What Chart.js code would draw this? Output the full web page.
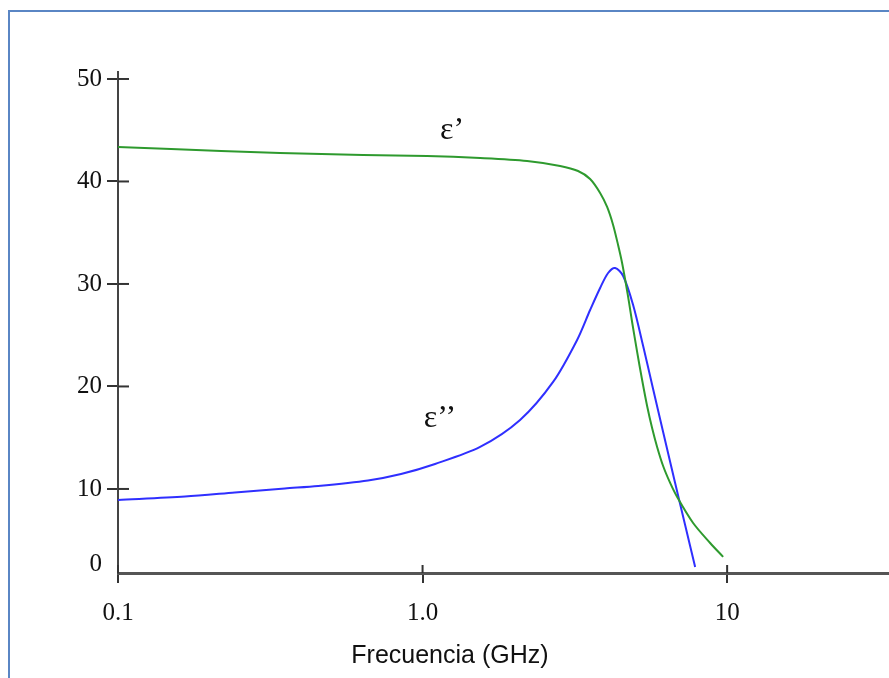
<!DOCTYPE html>
<html><head><meta charset="utf-8">
<script src="https://cdn.jsdelivr.net/npm/chart.js@4"></script>
<style>
html,body{margin:0;padding:0;background:#fff;overflow:hidden}
#wrap{position:relative;width:889px;height:678px}
#frame{position:absolute;left:8px;top:10px;width:900px;height:700px;border-left:2px solid #5a86c4;border-top:2px solid #5a86c4;box-sizing:border-box;pointer-events:none}
canvas{position:absolute;left:0;top:0}
</style></head><body>
<div id="wrap"><canvas id="c" width="889" height="678"></canvas><div id="frame"></div></div>
<script>
// ε' (real part) vs frequency (GHz)
const freqReal = [0.1, 0.1493, 0.218, 0.3404, 0.6376, 1.0346, 1.545, 2.204, 2.829, 3.240, 3.549, 3.828, 4.036, 4.223, 4.385, 4.520, 4.659, 4.766, 4.875, 5.064, 5.259, 5.461, 5.671, 5.890, 6.164, 6.500, 6.853, 7.733, 8.795, 9.703];
const epsReal  = [43.37, 43.17, 42.98, 42.78, 42.59, 42.49, 42.29, 42.0, 41.51, 41.02, 40.24, 38.88, 37.51, 35.76, 33.80, 32.05, 29.90, 28.15, 26.29, 23.37, 20.63, 18.10, 15.95, 14.10, 12.24, 10.59, 9.22, 6.68, 4.73, 3.37];
// ε'' (imaginary part) vs frequency (GHz)
const freqImag = [0.1, 0.166, 0.242, 0.353, 0.454, 0.662, 0.850, 1.099, 1.545, 2.090, 2.683, 3.217, 3.549, 3.828, 4.066, 4.288, 4.556, 4.913, 5.300, 5.714, 6.164, 6.749, 7.279, 7.852];
const epsImag  = [8.93, 9.27, 9.66, 10.05, 10.29, 10.83, 11.46, 12.44, 14.10, 16.73, 20.44, 24.54, 27.46, 29.61, 31.07, 31.56, 30.78, 27.95, 23.95, 19.76, 15.56, 10.59, 6.49, 2.39];

const xTickValues = [0.1, 1, 10];
const xTickLabels = ['0.1', '1.0', '10'];
const yTickValues = [2.6, 10, 20, 30, 40, 50];
const yTickLabels = ['0', '10', '20', '30', '40', '50'];
const curveLabels = ['ε’', 'ε’’'];
const curveLabelX = [1.25, 1.14];
const curveLabelY = [45.0, 16.9];
const axisTitle = 'Frecuencia (GHz)';
const axisTitleX = 1.23;

const serif = "'Liberation Serif', 'DejaVu Serif', serif";
const sans = "'Liberation Sans', Arial, sans-serif";

const innerTicks = {
  id: 'innerTicks',
  afterDraw(chart) {
    const {ctx, chartArea, scales} = chart;
    ctx.save();
    ctx.strokeStyle = '#333';
    ctx.lineWidth = 2;
    scales.y.ticks.forEach((t, i) => {
      if (i === 0) return;
      const p = scales.y.getPixelForValue(t.value);
      ctx.beginPath(); ctx.moveTo(chartArea.left, p); ctx.lineTo(chartArea.left + 11, p); ctx.stroke();
    });
    scales.x.ticks.forEach((t, i) => {
      const p = scales.x.getPixelForValue(t.value);
      ctx.beginPath(); ctx.moveTo(p, chartArea.bottom); ctx.lineTo(p, chartArea.bottom - 8); ctx.stroke();
    });
    ctx.fillStyle = '#111';
    ctx.font = '32px ' + serif;
    ctx.textAlign = 'center';
    ctx.textBaseline = 'middle';
    curveLabels.forEach((s, i) => {
      ctx.fillText(s, scales.x.getPixelForValue(curveLabelX[i]), scales.y.getPixelForValue(curveLabelY[i]));
    });
    ctx.font = '25px ' + sans;
    ctx.fillStyle = '#111';
    ctx.fillText(axisTitle, scales.x.getPixelForValue(axisTitleX), chartArea.bottom + 83);
    ctx.restore();
  }
};

new Chart(document.getElementById('c'), {
  type: 'scatter',
  data: {
    datasets: [
      { label: "ε'", data: freqReal.map((f, i) => ({x: f, y: epsReal[i]})), showLine: true, borderColor: '#2e9a2e', borderWidth: 2, pointRadius: 0, tension: 0.3 },
      { label: "ε''", data: freqImag.map((f, i) => ({x: f, y: epsImag[i]})), showLine: true, borderColor: '#2f2fff', borderWidth: 2, pointRadius: 0, tension: 0.3 }
    ]
  },
  options: {
    responsive: false,
    devicePixelRatio: 1,
    animation: false,
    layout: { padding: { top: 72, right: 0, left: 0, bottom: 0 } },
    plugins: { legend: { display: false }, tooltip: { enabled: false } },
    scales: {
      x: {
        type: 'logarithmic', min: 0.1, max: 34, position: 'bottom',
        afterBuildTicks: s => { s.ticks = xTickValues.map(v => ({value: v})); },
        afterFit: s => { s.height = 105; },
        ticks: { callback: (v, i) => xTickLabels[i], font: { family: serif, size: 25 }, color: '#111', padding: 15, maxRotation: 0, autoSkip: false },
        grid: { drawOnChartArea: false, drawTicks: true, tickLength: 10, color: '#333', lineWidth: 2 },
        border: { display: true, color: '#555', width: 3 }
      },
      y: {
        type: 'linear', min: 1.8, max: 50.68,
        afterBuildTicks: s => { s.ticks = yTickValues.map(v => ({value: v})); },
        afterFit: s => { s.width = 118; },
        ticks: { callback: (v, i) => yTickLabels[i], font: { family: serif, size: 25 }, color: '#111', padding: 5, autoSkip: false },
        grid: { drawOnChartArea: false, drawTicks: true, tickLength: 11, color: c => c.index === 0 ? 'rgba(0,0,0,0)' : '#333', lineWidth: 2 },
        border: { display: true, color: '#444', width: 2 }
      }
    }
  },
  plugins: [innerTicks]
});
</script>
</body></html>
